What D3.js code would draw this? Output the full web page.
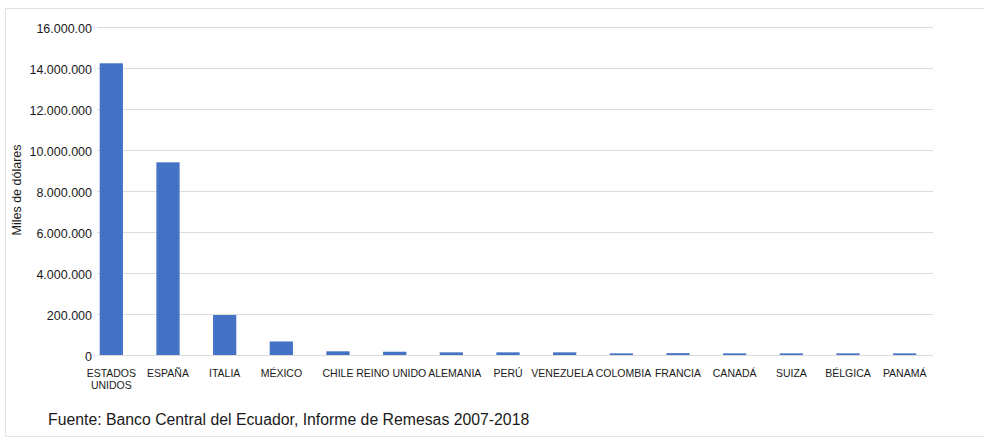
<!DOCTYPE html>
<html>
<head>
<meta charset="utf-8">
<script src="https://cdn.jsdelivr.net/npm/d3@7"></script>
<style>
    body { margin: 0; background: #fff; }
    text { font-family: "Liberation Sans", Arial, sans-serif; fill: #1a1a1a; }
</style>
</head>
<body>
<div id="chart"></div>
<script>
// Remesas por país de origen (miles de dólares)
const countries = ["ESTADOS UNIDOS", "ESPAÑA", "ITALIA", "MÉXICO", "CHILE", "REINO UNIDO", "ALEMANIA",
    "PERÚ", "VENEZUELA", "COLOMBIA", "FRANCIA", "CANADÁ", "SUIZA", "BÉLGICA", "PANAMÁ"];
const remittances = [14230000, 9400000, 1950000, 660000, 180000, 160000, 130000,
    130000, 130000, 80000, 90000, 80000, 80000, 80000, 80000];
const tickValues = [0, 2000000, 4000000, 6000000, 8000000, 10000000, 12000000, 14000000, 16000000];
// etiquetas tal como aparecen en la figura original
const tickLabels = ["0", "200.000", "4.000.000", "6.000.000", "8.000.000", "10.000.000",
    "12.000.000", "14.000.000", "16.000.00"];

const width = 984, height = 439;
const margins = {top: 27, right: 51, bottom: 84, left: 83};

const svg = d3.select("#chart").append("svg")
    .attr("width", width)
    .attr("height", height);

// marco exterior
svg.append("rect")
    .attr("x", 5.5).attr("y", 8.5)
    .attr("width", 1000).attr("height", 428)
    .attr("fill", "none")
    .attr("stroke", "#e3e3e3");

const x = d3.scaleBand()
    .domain(countries)
    .range([margins.left, width - margins.right])
    .paddingInner(0.59)
    .paddingOuter(0.295);

const y = d3.scaleLinear()
    .domain([0, 16000000])
    .range([height - margins.bottom, margins.top]);

// gridlines
svg.append("g")
    .selectAll("line")
    .data(tickValues)
    .enter()
    .append("line")
    .attr("x1", 97)
    .attr("x2", width - margins.right)
    .attr("y1", d => Math.round(y(d)) + 0.5)
    .attr("y2", d => Math.round(y(d)) + 0.5)
    .attr("stroke", "#dcdcdc")
    .attr("stroke-width", 1);

// y axis (labels only)
const yAxis = svg.append("g")
    .attr("transform", "translate(" + 97 + ",0)")
    .call(d3.axisLeft(y)
        .tickValues(tickValues)
        .tickSize(0)
        .tickPadding(5)
        .tickFormat((d, i) => tickLabels[i]));
yAxis.select(".domain").remove();
yAxis.selectAll("text")
    .style("font-size", "12.5px")
    .attr("dy", "0.45em")
    .attr("fill", "#1a1a1a");

// bars
svg.append("g")
    .selectAll("rect")
    .data(countries)
    .enter()
    .append("rect")
    .attr("x", d => x(d))
    .attr("width", x.bandwidth())
    .attr("y", (d, i) => y(remittances[i]))
    .attr("height", (d, i) => y(0) - y(remittances[i]))
    .attr("fill", "#4472c4");

// x axis labels
const xAxis = svg.append("g")
    .attr("transform", "translate(0," + y(0) + ")")
    .call(d3.axisBottom(x).tickSize(0).tickPadding(0).tickFormat(""));
xAxis.select(".domain").remove();
const labels = xAxis.selectAll(".tick")
    .append("text")
    .attr("text-anchor", "middle")
    .style("font-size", "10.5px")
    .attr("fill", "#1a1a1a")
    .each(function(d) {
        const words = d === "ESTADOS UNIDOS" ? ["ESTADOS", "UNIDOS"] : [d];
        d3.select(this).selectAll("tspan")
            .data(words)
            .enter()
            .append("tspan")
            .attr("x", 0)
            .attr("y", (w, i) => 21.5 + i * 12)
            .text(w => w);
    });

// separar etiquetas que se pisan
const nodes = labels.nodes();
for (let i = 1; i < nodes.length; i++) {
    const prev = nodes[i - 1].getBoundingClientRect();
    const cur = nodes[i].getBoundingClientRect();
    const overlap = prev.right + 2 - cur.left;
    if (overlap > 0) {
        const shift = overlap / 2;
        const px = +(nodes[i - 1].getAttribute("data-dx") || 0) - shift;
        const cx = +(nodes[i].getAttribute("data-dx") || 0) + shift;
        nodes[i - 1].setAttribute("data-dx", px);
        nodes[i].setAttribute("data-dx", cx);
        nodes[i - 1].setAttribute("transform", "translate(" + px + ",0)");
        nodes[i].setAttribute("transform", "translate(" + cx + ",0)");
    }
}

// y axis title
svg.append("text")
    .attr("transform", "translate(" + 21 + "," + 190 + ") rotate(-90)")
    .attr("text-anchor", "middle")
    .style("font-size", "12.5px")
    .text("Miles de dólares");

// fuente
svg.append("text")
    .attr("x", 48)
    .attr("y", 425)
    .style("font-size", "15.8px")
    .text("Fuente: Banco Central del Ecuador, Informe de Remesas 2007-2018");
</script>
</body>
</html>
